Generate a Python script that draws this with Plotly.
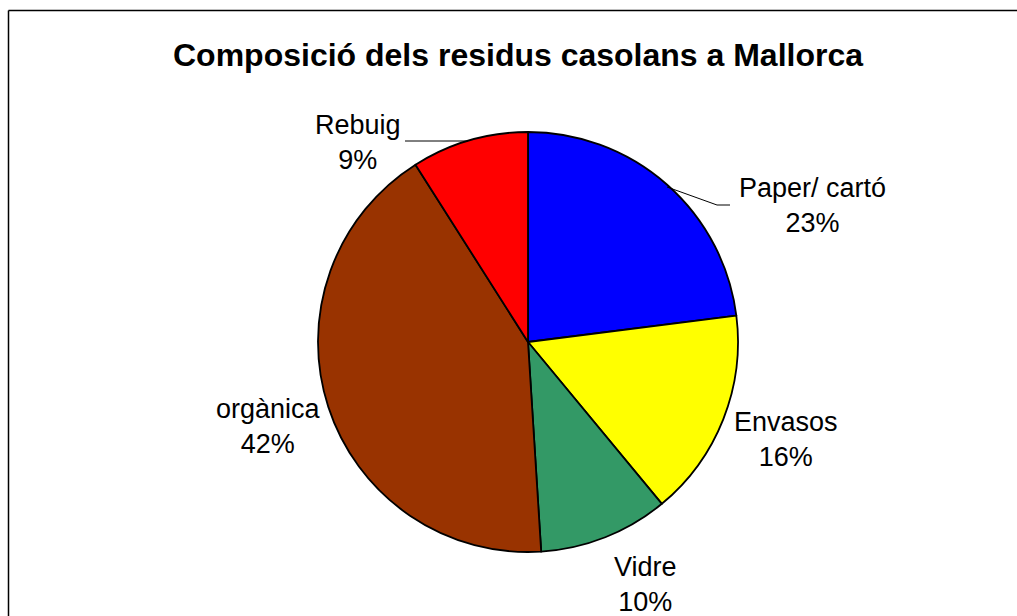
import plotly.graph_objects as go

# data
labels = ["Paper/ cartó", "Envasos", "Vidre", "orgànica", "Rebuig"]
values = [23, 16, 10, 42, 9]
colors = ["#0000FF", "#FFFF00", "#339966", "#993300", "#FF0000"]

# label centres (pixels from top-left) for the outside labels
label_px = [812, 786, 645, 268, 358]
label_py = [206, 439, 584, 426, 142]

W, H = 1017, 616
font = "Liberation Sans, Arial, sans-serif"


def px(x, y):
    return x / W, 1 - y / H


fig = go.Figure()

fig.add_trace(go.Pie(
    labels=labels,
    values=values,
    marker=dict(colors=colors, line=dict(color="black", width=1.8)),
    sort=False,
    direction="clockwise",
    rotation=0,
    textinfo="none",
    hoverinfo="label+percent",
    showlegend=False,
    domain=dict(x=[318 / W, 738 / W], y=[1 - 552 / H, 1 - 132 / H]),
))

annotations = []
total = sum(values)
for lab, val, lx, ly in zip(labels, values, label_px, label_py):
    x, y = px(lx, ly)
    annotations.append(dict(
        x=x, y=y, xref="paper", yref="paper",
        xanchor="center", yanchor="middle",
        text=f"{lab}<br>{round(val / total * 100)}%",
        showarrow=False,
        font=dict(family=font, size=27, color="black"),
        align="center",
    ))

tx, ty = px(518, 55)
annotations.append(dict(
    x=tx, y=ty, xref="paper", yref="paper",
    xanchor="center", yanchor="middle",
    text="<b>Composició dels residus casolans a Mallorca</b>",
    showarrow=False,
    font=dict(family=font, size=32, color="black"),
))

# leader lines
shapes = []
x0, y0 = px(405, 141)
x1, y1 = px(468, 141)
shapes.append(dict(type="line", xref="paper", yref="paper", x0=x0, y0=y0, x1=x1, y1=y1,
                   line=dict(color="black", width=1)))
a = px(667, 187)
b = px(717, 205)
c = px(730, 205)
shapes.append(dict(type="path", xref="paper", yref="paper",
                   path=f"M {a[0]} {a[1]} L {b[0]} {b[1]} L {c[0]} {c[1]}",
                   line=dict(color="black", width=1)))

# chart border (only top and left visible)
bx, by = px(8.5, 10.5)
shapes.append(dict(type="line", xref="paper", yref="paper", x0=bx, y0=by, x1=1.02, y1=by,
                   line=dict(color="black", width=1.5)))
shapes.append(dict(type="line", xref="paper", yref="paper", x0=bx, y0=by, x1=bx, y1=-0.02,
                   line=dict(color="black", width=1.5)))

fig.update_layout(
    width=W,
    height=H,
    margin=dict(l=0, r=0, t=0, b=0),
    paper_bgcolor="white",
    plot_bgcolor="white",
    annotations=annotations,
    shapes=shapes,
)

fig.write_html("out.html", config={"displayModeBar": False},
               post_script="document.body.style.margin='0px';")
